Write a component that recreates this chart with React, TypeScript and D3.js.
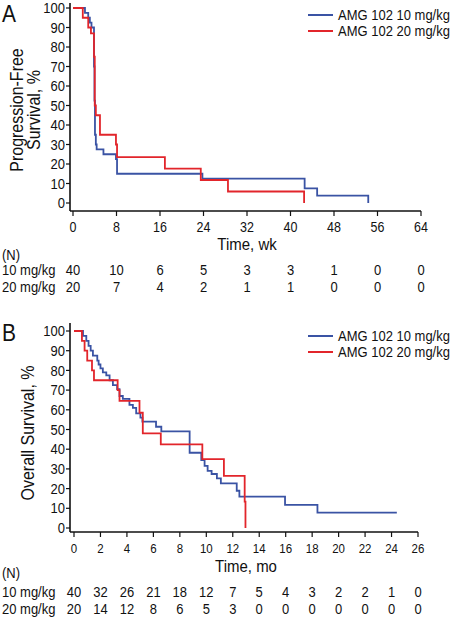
import React from 'react';
import * as d3 from 'd3';

// ---------- Panel A: Progression-free survival (weeks) ----------
const pfsXTicks = [0, 8, 16, 24, 32, 40, 48, 56, 64];
const pfsYTicks = [0, 10, 20, 30, 40, 50, 60, 70, 80, 90, 100];
const pfs10Time = [0, 2.2, 2.8, 3.1, 3.4, 3.86, 3.95, 4.04, 4.2, 4.35, 5.6, 7.9, 8.1, 23.8, 42.6, 44.9, 54.3];
const pfs10Surv = [100, 97.5, 95, 92.5, 90, 70, 52.5, 35, 30, 27.5, 25, 22.5, 15, 12.5, 7.5, 3.75, 0];
const pfs20Time = [0, 1.8, 2.8, 3.3, 3.86, 4.0, 4.2, 4.96, 7.9, 8.1, 16.9, 23.5, 28.5, 42.5];
const pfs20Surv = [100, 95, 90, 87, 75, 50, 45, 35, 30, 23.5, 17.6, 11.8, 5.9, 0];
const pfsRisk10 = [40, 10, 6, 5, 3, 3, 1, 0, 0];
const pfsRisk20 = [20, 7, 4, 2, 1, 1, 0, 0, 0];

// ---------- Panel B: Overall survival (months) ----------
const osXTicks = [0, 2, 4, 6, 8, 10, 12, 14, 16, 18, 20, 22, 24, 26];
const osYTicks = [0, 10, 20, 30, 40, 50, 60, 70, 80, 90, 100];
const os10Time = [0, 0.68, 0.93, 1.1, 1.26, 1.43, 1.76, 1.86, 2.0, 2.18, 2.44, 2.69, 2.94, 3.26, 3.44, 3.69, 4.19, 4.45, 4.7, 5.02, 5.17, 6.2, 6.6, 8.74, 9.62, 9.87, 10.1, 10.4, 10.8, 11.1, 12.3, 12.5, 15.95, 18.4, 24.4];
const os10Surv = [100, 97.5, 95, 92.5, 90, 87.5, 85, 83, 81, 79, 77.5, 75, 72.5, 70.5, 67, 65.5, 62.5, 61, 58.2, 56, 54, 51.4, 49, 38.2, 34.5, 31.5, 29, 27.4, 25.2, 22.7, 18.9, 15.9, 11.7, 7.8, 7.8];
const os20Time = [0, 0.6, 0.8, 1.0, 1.36, 1.51, 3.3, 3.44, 4.95, 5.2, 6.56, 9.7, 11.33, 12.9, 12.96];
const os20Surv = [100, 95, 90, 85, 80, 75, 70, 64.5, 58.5, 48, 42.5, 35, 26.5, 13.4, 0];
const osRisk10 = [40, 32, 26, 21, 18, 12, 7, 5, 4, 3, 2, 2, 1, 0];
const osRisk20 = [20, 14, 12, 8, 6, 5, 3, 0, 0, 0, 0, 0, 0, 0];

const seriesLabels = ['AMG 102 10 mg/kg', 'AMG 102 20 mg/kg'];
const riskLabels = ['10 mg/kg', '20 mg/kg'];
const BLUE = '#3a53a4';
const RED = '#e2252b';
const FONT = '"Liberation Sans", Arial, Helvetica, sans-serif';
const SY = 1.12;

function T(props: { x: number; y: number; size: number; anchor?: string; rotate?: boolean; children: React.ReactNode }) {
  const tr = props.rotate
    ? `translate(${props.x},${props.y}) rotate(-90) scale(1,${SY})`
    : `translate(${props.x},${props.y}) scale(1,${SY})`;
  return (
    <text transform={tr} dy="0.35em" textAnchor={props.anchor || 'start'} fontSize={props.size}>
      {props.children}
    </text>
  );
}

type PanelProps = {
  letter: string;
  yTitle: string[];
  xTitle: string;
  xTicks: number[];
  yTicks: number[];
  xDomain: [number, number];
  xRange: [number, number];
  yRange: [number, number];
  axisLeft: number;
  axisTop: number;
  axisBottom: number;
  axisRight: number;
  s1t: number[]; s1s: number[];
  s2t: number[]; s2s: number[];
  risk1: number[]; risk2: number[];
  legendY: number;
  letterY: number;
  yTitleY: number;
  yTitleX: number[];
  xTitleY: number;
  nY: number;
  row1Y: number;
  row2Y: number;
  xTickSize: number;
};

function Panel(p: PanelProps) {
  const x = d3.scaleLinear().domain(p.xDomain).range(p.xRange);
  const y = d3.scaleLinear().domain([0, 100]).range(p.yRange);
  const line = d3.line<[number, number]>().x(d => x(d[0])).y(d => y(d[1])).curve(d3.curveStepAfter);
  const d1 = line(p.s1t.map((t, i) => [t, p.s1s[i]] as [number, number])) || '';
  const d2 = line(p.s2t.map((t, i) => [t, p.s2s[i]] as [number, number])) || '';
  const xb = p.axisBottom;
  return (
    <g fontFamily={FONT} fill="#111">
      <T x={2} y={p.letterY} size={21}>{p.letter}</T>
      {/* axes */}
      <line x1={p.axisLeft} x2={p.axisLeft} y1={p.axisTop} y2={xb} stroke="#111" strokeWidth={1.6} />
      <line x1={p.axisLeft} x2={p.axisRight} y1={xb} y2={xb} stroke="#111" strokeWidth={1.6} />
      {p.yTicks.map(v => (
        <g key={'y' + v}>
          <line x1={p.axisLeft - 4} x2={p.axisLeft} y1={y(v)} y2={y(v)} stroke="#111" strokeWidth={1.2} />
          <T x={p.axisLeft - 5} y={y(v)} anchor="end" size={13}>{v}</T>
        </g>
      ))}
      {p.xTicks.map(v => (
        <g key={'x' + v}>
          <line x1={x(v)} x2={x(v)} y1={xb} y2={xb + 5} stroke="#111" strokeWidth={1.2} />
          <T x={x(v)} y={xb + 16} anchor="middle" size={p.xTickSize}>{v}</T>
        </g>
      ))}
      {p.yTitle.map((t, i) => (
        <T key={t} x={p.yTitleX[i]} y={p.yTitleY} anchor="middle" size={16} rotate>{t}</T>
      ))}
      <T x={(p.xRange[0] + p.xRange[1]) / 2} y={p.xTitleY} anchor="middle" size={15}>{p.xTitle}</T>
      {/* curves */}
      <path d={d1} fill="none" stroke={BLUE} strokeWidth={1.8} />
      <path d={d2} fill="none" stroke={RED} strokeWidth={1.8} />
      {/* legend */}
      {[BLUE, RED].map((c, i) => (
        <g key={c}>
          <line x1={308} x2={333} y1={p.legendY + i * 16} y2={p.legendY + i * 16} stroke={c} strokeWidth={2} />
          <T x={338} y={p.legendY + i * 16} size={13}>{seriesLabels[i]}</T>
        </g>
      ))}
      {/* risk table */}
      <T x={2} y={p.nY} size={13}>(N)</T>
      <T x={2} y={p.row1Y} size={13}>{riskLabels[0]}</T>
      <T x={2} y={p.row2Y} size={13}>{riskLabels[1]}</T>
      {p.xTicks.map((v, i) => (
        <g key={'r' + v}>
          <T x={x(v)} y={p.row1Y} anchor="middle" size={13}>{p.risk1[i]}</T>
          <T x={x(v)} y={p.row2Y} anchor="middle" size={13}>{p.risk2[i]}</T>
        </g>
      ))}
    </g>
  );
}

export default function App() {
  return (
    <svg width={450} height={617} style={{ position: 'absolute', left: 0, top: 0, background: '#fff' }}>
      <rect width={450} height={617} fill="#fff" />
      <Panel
        letter="A" yTitle={['Progression-Free', 'Survival, %']} xTitle="Time, wk"
        xTicks={pfsXTicks} yTicks={pfsYTicks} xDomain={[0, 64]} xRange={[73, 421]} yRange={[203, 8]}
        axisLeft={70} axisTop={3} axisBottom={211} axisRight={421}
        s1t={pfs10Time} s1s={pfs10Surv} s2t={pfs20Time} s2s={pfs20Surv}
        risk1={pfsRisk10} risk2={pfsRisk20}
        legendY={15} letterY={14} yTitleY={110} yTitleX={[17, 34]}
        xTitleY={244} nY={255} row1Y={270} row2Y={287} xTickSize={12.5}
      />
      <Panel
        letter="B" yTitle={['Overall Survival, %']} xTitle="Time, mo"
        xTicks={osXTicks} yTicks={osYTicks} xDomain={[0, 26]} xRange={[74, 418]} yRange={[528, 331]}
        axisLeft={70} axisTop={323} axisBottom={532} axisRight={418}
        s1t={os10Time} s1s={os10Surv} s2t={os20Time} s2s={os20Surv}
        risk1={osRisk10} risk2={osRisk20}
        legendY={336} letterY={333} yTitleY={433} yTitleX={[28]}
        xTitleY={566} nY={573} row1Y={592} row2Y={609} xTickSize={11.5}
      />
    </svg>
  );
}
